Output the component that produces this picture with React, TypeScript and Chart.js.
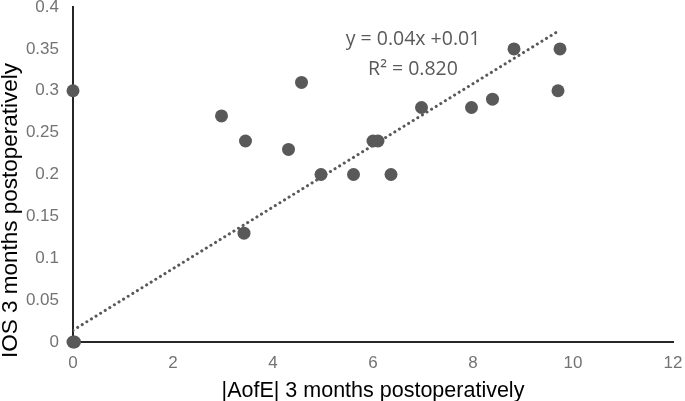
import React, { useEffect, useRef } from "react";
import { Chart, registerables } from "chart.js";

Chart.register(...registerables);

const xValues = [0, 0.03, 0, 2.97, 3.45, 3.42, 4.31, 4.57, 4.96, 5.61, 6.0, 6.1, 6.36, 6.97, 7.97, 8.39, 8.82, 9.74, 9.7];
const yValues = [0, 0, 0.3, 0.27, 0.24, 0.13, 0.23, 0.31, 0.2, 0.2, 0.24, 0.24, 0.2, 0.28, 0.28, 0.29, 0.35, 0.35, 0.3];
const trendX = [0, 9.7];
const trendY = [0.014, 0.371];
const xTickLabels = ["0", "2", "4", "6", "8", "10", "12"];
const yTickLabels = ["0", "0.05", "0.1", "0.15", "0.2", "0.25", "0.3", "0.35", "0.4"];
const equationText = "y = 0.04x +0.01";
const r2Text = "R² = 0.820";
const xTitle = "|AofE| 3 months postoperatively";
const yTitle = "IOS 3 months postoperatively";

const GRAY = "#595959";
const TICK_GRAY = "#737373";
const AXIS = "#262626";
const FONT = "'Liberation Sans', Arial, sans-serif";

export default function App() {
  const ref = useRef<HTMLCanvasElement | null>(null);
  useEffect(() => {
    const canvas = ref.current;
    if (!canvas) return;
    const annotation = {
      id: "eqText",
      afterDatasetsDraw(chart: any) {
        const ctx = chart.ctx;
        const xs = chart.scales.x;
        const ys = chart.scales.y;
        ctx.save();
        ctx.fillStyle = GRAY;
        ctx.font = "19.5px 'Open Sans', 'Noto Sans', sans-serif";
        ctx.textAlign = "center";
        ctx.textBaseline = "middle";
        ctx.fillText(equationText, xs.getPixelForValue(6.8), ys.getPixelForValue(0.361));
        ctx.fillText(r2Text, xs.getPixelForValue(6.8), ys.getPixelForValue(0.325));
        // rotated y axis title
        ctx.fillStyle = "#000";
        ctx.font = `22.5px ${FONT}`;
        ctx.translate(11, ys.getPixelForValue(0.157));
        ctx.rotate(-Math.PI / 2);
        ctx.fillText(yTitle, 0, 0);
        ctx.restore();
      },
    };
    const chart = new Chart(canvas, {
      type: "scatter",
      data: {
        datasets: [
          {
            type: "line",
            data: trendX.map((x, i) => ({ x, y: trendY[i] })),
            borderColor: GRAY,
            borderWidth: 3,
            borderDash: [0.1, 5.3],
            borderCapStyle: "round",
            pointRadius: 0,
            fill: false,
            order: 2,
          } as any,
          {
            data: xValues.map((x, i) => ({ x, y: yValues[i] })),
            backgroundColor: GRAY,
            borderColor: GRAY,
            borderWidth: 0,
            pointRadius: 6.5,
            clip: false,
            order: 1,
          } as any,
        ],
      },
      plugins: [annotation],
      options: {
        animation: false,
        responsive: false,
        maintainAspectRatio: false,
        layout: { padding: { left: 0, right: 12, top: 7, bottom: 0 } },
        plugins: { legend: { display: false }, tooltip: { enabled: false } },
        scales: {
          x: {
            type: "linear",
            min: 0,
            max: 12,
            afterFit(scale: any) {
              scale.height = 59;
              scale.paddingLeft = 0;
              scale.paddingRight = 0;
            },
            afterBuildTicks(scale: any) {
              scale.ticks = xTickLabels.map((t) => ({ value: Number(t) }));
            },
            grid: { display: false, drawTicks: false },
            border: { display: true, color: AXIS, width: 2 },
            ticks: {
              padding: 11,
              color: TICK_GRAY,
              font: { family: FONT, size: 17 },
              callback: (_v: any, i: number) => xTickLabels[i],
              maxRotation: 0,
              autoSkip: false,
            },
            title: {
              display: true,
              text: xTitle,
              color: "#000",
              font: { family: FONT, size: 21.5 },
              padding: { top: 0, bottom: -2.5 },
            },
          },
          y: {
            type: "linear",
            min: 0,
            max: 0.4,
            afterFit(scale: any) {
              scale.width = 73;
              scale.paddingTop = 0;
              scale.paddingBottom = 0;
            },
            afterBuildTicks(scale: any) {
              scale.ticks = yTickLabels.map((t) => ({ value: Number(t) }));
            },
            grid: { display: false, drawTicks: false },
            border: { display: true, color: AXIS, width: 2 },
            ticks: {
              padding: 14,
              color: TICK_GRAY,
              font: { family: FONT, size: 17 },
              callback: (_v: any, i: number) => yTickLabels[i],
              autoSkip: false,
            },
            title: { display: false },
          },
        },
      } as any,
    });
    return () => chart.destroy();
  }, []);
  return (
    <div style={{ position: "fixed", left: 0, top: 0, width: 685, height: 401, background: "#fff" }}>
      <canvas ref={ref} width={685} height={401} style={{ width: 685, height: 401, display: "block" }} />
    </div>
  );
}
